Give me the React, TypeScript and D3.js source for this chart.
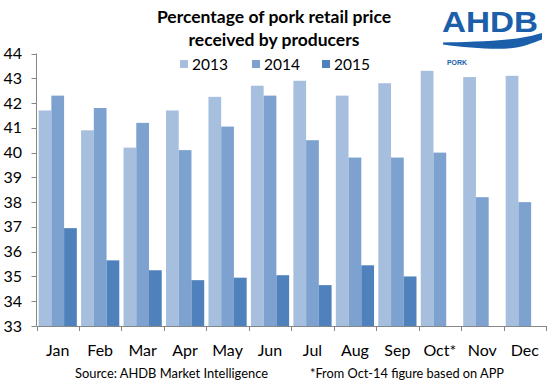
import React from 'react';
import * as d3 from 'd3';

const months = ['Jan', 'Feb', 'Mar', 'Apr', 'May', 'Jun', 'Jul', 'Aug', 'Sep', 'Oct*', 'Nov', 'Dec'];
const seriesNames = ['2013', '2014', '2015'];
const values2013 = [41.7, 40.9, 40.2, 41.7, 42.25, 42.7, 42.9, 42.3, 42.8, 43.3, 43.05, 43.1];
const values2014 = [42.3, 41.8, 41.2, 40.1, 41.05, 42.3, 40.5, 39.8, 39.8, 40.0, 38.2, 38.0];
const values2015: (number | null)[] = [36.95, 35.65, 35.25, 34.85, 34.95, 35.05, 34.65, 35.45, 35.0, null, null, null];
const yTicks = [33, 34, 35, 36, 37, 38, 39, 40, 41, 42, 43, 44];
const titleLines = ['Percentage of pork retail price', 'received by producers'];
const sourceText = 'Source: AHDB Market Intelligence';
const noteText = '*From Oct-14 figure based on APP';

const colors = ['#A7BFDE', '#7EA2CF', '#4F81BD'];
const font = 'Lato, Calibri, Carlito, sans-serif';

export default function App() {
  const W = 549, H = 385;
  const x0 = 36.5, x1 = 546, yTop = 53.5, yBot = 326;
  const x = d3.scaleBand<string>().domain(months).range([x0, x1]).paddingInner(0.1).paddingOuter(0.05);
  const xs = d3.scaleBand<string>().domain(seriesNames).range([0, x.bandwidth()]);
  const y = d3.scaleLinear().domain([33, 44]).range([yBot, yTop]);
  const series = [values2013, values2014, values2015];
  const step = x.step();
  const tickXs = d3.range(months.length + 1).map(i => x0 + i * step);

  return (
    <svg width={W} height={H} style={{ position: 'fixed', left: 0, top: 0, background: '#fff' }} fontFamily={font}>
      <rect x={0} y={0} width={W} height={H} fill="#fff" />
      {/* Title */}
      {titleLines.map((t, i) => (
        <text key={t} x={274} y={23 + i * 23} textAnchor="middle" fontSize={17.5} fontWeight="bold" fill="#000">{t}</text>
      ))}
      {/* Legend */}
      {seriesNames.map((s, i) => {
        const lx = [180, 252, 322][i];
        return (
          <g key={s}>
            <rect x={lx} y={60} width={8} height={8} fill={colors[i]} />
            <text x={lx + 12} y={69.5} fontSize={15.5} fill="#000">{s}</text>
          </g>
        );
      })}
      {/* Logo */}
      <g fill="#1B5EAA">
        <text x={442} y={32} fontFamily="'Liberation Sans', Arial, sans-serif" fontWeight="bold" fontSize={30} textLength={96} lengthAdjust="spacingAndGlyphs">AHDB</text>
        <path d="M443,42.5 C460,42 490,41.5 512,39 C525,37.5 535,35 542,33 L542,39.5 C533,43 522,47.5 508,48.5 C490,49.5 465,47.5 443,44.5 Z" />
        <text x={447} y={64.5} fontFamily="'Liberation Sans', Arial, sans-serif" fontWeight="bold" fontSize={8} textLength={20} lengthAdjust="spacingAndGlyphs">PORK</text>
      </g>
      {/* Bars */}
      {series.map((vals, si) => (
        <g key={si} fill={colors[si]}>
          {months.map((m, mi) => {
            const v = vals[mi];
            if (v == null) return null;
            return (
              <rect key={m} x={(x(m) as number) + (xs(seriesNames[si]) as number)} y={y(v)} width={xs.bandwidth()} height={yBot - y(v)} />
            );
          })}
        </g>
      ))}
      {/* Y axis */}
      <line x1={x0} x2={x0} y1={yTop} y2={yBot} stroke="#868686" strokeWidth={1} />
      {yTicks.map(t => (
        <g key={t}>
          <line x1={x0 - 5} x2={x0} y1={Math.round(y(t)) + 0.5} y2={Math.round(y(t)) + 0.5} stroke="#868686" />
          <text x={22} y={y(t) + 5.5} textAnchor="end" fontSize={16} fill="#000">{t}</text>
        </g>
      ))}
      {/* X axis */}
      <line x1={x0} x2={x1} y1={yBot + 0.5} y2={yBot + 0.5} stroke="#868686" />
      {tickXs.map((tx, i) => (
        <line key={i} x1={Math.round(tx) + 0.5} x2={Math.round(tx) + 0.5} y1={yBot} y2={yBot + 5} stroke="#868686" />
      ))}
      {months.map(m => (
        <text key={m} x={(x(m) as number) + x.bandwidth() / 2} y={356} textAnchor="middle" fontSize={16} fill="#000">{m}</text>
      ))}
      {/* Footer */}
      <text x={75} y={378} fontSize={13.5} fill="#000" textLength={193} lengthAdjust="spacingAndGlyphs">{sourceText}</text>
      <text x={310} y={378} fontSize={13.5} fill="#000" textLength={194} lengthAdjust="spacingAndGlyphs">{noteText}</text>
    </svg>
  );
}
